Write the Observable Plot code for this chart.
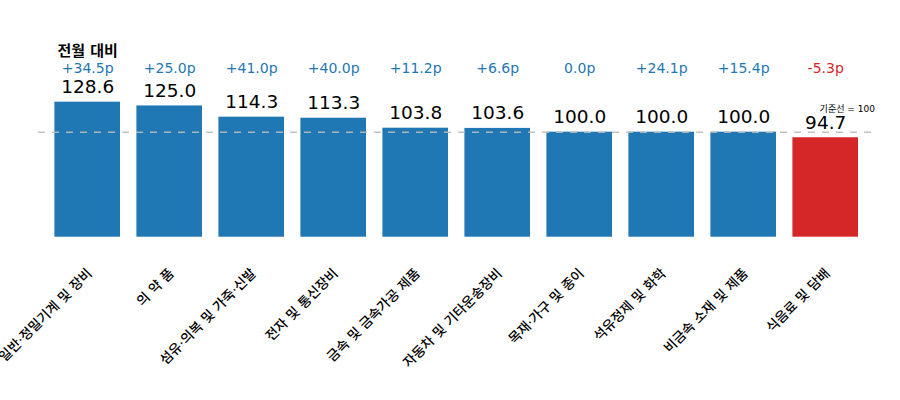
<!DOCTYPE html>
<html>
<head>
<meta charset="utf-8">
<script src="https://cdn.jsdelivr.net/npm/d3@7"></script>
<script src="https://cdn.jsdelivr.net/npm/@observablehq/plot@0.6"></script>
<style>
  html, body { margin: 0; padding: 0; background: white; }
  #chart svg { display: block; }
</style>
</head>
<body>
<div id="chart"></div>
<script>
const categories = [
  "일반·정밀기계 및 장비",
  "의 약 품",
  "섬유·의복 및 가죽·신발",
  "전자 및 통신장비",
  "금속 및 금속가공 제품",
  "자동차 및 기타운송장비",
  "목재·가구 및 종이",
  "석유정제 및 화학",
  "비금속 소재 및 제품",
  "식음료 및 담배"
];
const values = [128.6, 125.0, 114.3, 113.3, 103.8, 103.6, 100.0, 100.0, 100.0, 94.7];
const changes = [34.5, 25.0, 41.0, 40.0, 11.2, 6.6, 0.0, 24.1, 15.4, -5.3];
const baseline = 100;

const BLUE = "#1f77b4", RED = "#d62728";
const data = categories.map((c, i) => ({cat: c, value: values[i], change: changes[i]}));
const colorOf = d => d.change < 0 ? RED : BLUE;
const fmtChange = d => (d.change > 0 ? "+" : "") + d.change.toFixed(1) + "p";
const FONT = "'DejaVu Sans', 'Noto Sans CJK KR', sans-serif";

const chart = Plot.plot({
  width: 900,
  height: 400,
  marginLeft: 38,
  marginRight: 25.6,
  marginTop: 0,
  marginBottom: 163.3,
  style: {fontFamily: FONT, background: "white", color: "black"},
  x: {domain: categories, paddingInner: 0.2, paddingOuter: 0.2, round: false, label: null},
  y: {domain: [0, 225.4], axis: null},
  marks: [
    Plot.barY(data, {x: "cat", y: "value", fill: colorOf}),
    Plot.ruleY([baseline], {stroke: "#bbbbbb", strokeOpacity: 0.9, strokeWidth: 1.6, strokeDasharray: "7,7"}),
    Plot.text(data, {x: "cat", y: "value", text: d => d.value.toFixed(1), dy: -15, fontSize: 18.5, fill: "black"}),
    Plot.text(data, {x: "cat", frameAnchor: "top", dy: 63, text: fmtChange, fill: colorOf, fontSize: 14}),
    Plot.text([categories[0]], {x: d => d, frameAnchor: "top", dy: 45, text: () => "전월 대비", fontSize: 15, fontWeight: "bold", fill: "black"}),
    Plot.text([baseline], {y: d => d, frameAnchor: "right", textAnchor: "end", dy: -22.7, text: () => "기준선 = " + baseline, fontSize: 9, fill: "black"}),
    Plot.axisX({tickRotate: -45, tickSize: 0, tickPadding: 34, dx: 2, fontSize: 13.5, fontWeight: 500, fill: "black", label: null})
  ]
});
document.getElementById("chart").appendChild(chart);
</script>
</body>
</html>
